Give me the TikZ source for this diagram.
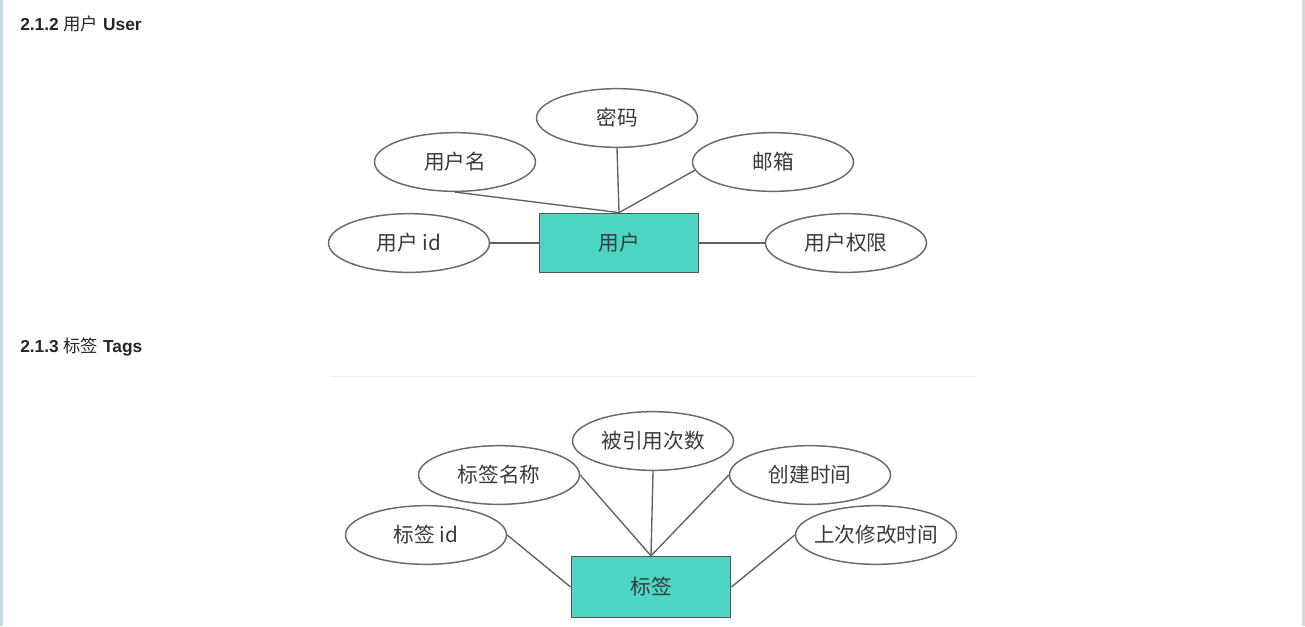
\documentclass[tikz,border=0pt]{standalone}
\usepackage{fontspec}
\setmainfont{Liberation Sans}
\newfontfamily\cjk{Noto Sans CJK SC}
\usetikzlibrary{shapes.geometric}
\definecolor{erTeal}{HTML}{4DD6C4}
\definecolor{erLine}{HTML}{6A6A6A}
\definecolor{erText}{HTML}{3A3A3A}
\definecolor{pageEdge}{HTML}{C3D9DE}
\definecolor{pageEdgeR}{HTML}{D4D8D8}

\begin{document}
\begin{tikzpicture}[x=0.75pt, y=-0.75pt,
    attr/.style={ellipse, draw=erLine, line width=1.1pt, fill=white,
                 minimum width=120.75pt, minimum height=44pt, inner sep=0pt,
                 font=\cjk\fontsize{15.5}{18}\selectfont, text=erText},
    entity/.style={rectangle, draw=erLine!80!black, line width=1.1pt, fill=erTeal,
                   minimum width=119.5pt, minimum height=44.5pt, inner sep=0pt,
                   font=\cjk\fontsize{15.5}{18}\selectfont, text=erText},
    link/.style={draw=erLine!90!black, line width=1pt},
    heading/.style={anchor=west, inner sep=0pt, text=black!85,
                    font=\bfseries\fontsize{13}{15}\selectfont}
  ]
  % page
  \useasboundingbox (0,0) rectangle (1305,626);
  \fill[white] (0,0) rectangle (1305,626);
  \fill[pageEdge] (0,0) rectangle (3,626);
  \fill[pageEdgeR] (1302,0) rectangle (1305,626);

  % 2.1.2 User
  \node[heading] (h1) at (20,24) {2.1.2 {\mdseries\cjk 用户} User};

  \node[entity] (user) at (619,243) {用户};
  \node[attr] (pwd)   at (617,118) {密码};
  \node[attr] (uname) at (455,162) {用户名};
  \node[attr] (mail)  at (773,162) {邮箱};
  \node[attr] (uid)   at (409,243) {用户 id};
  \node[attr] (perm)  at (846,243) {用户权限};

  \draw[link] (uname.south) -- (user.north);
  \draw[link] (pwd.south) -- (user.north);
  \draw[link] (mail.186) -- (user.north);
  \draw[link] (uid.east) -- (user.west);
  \draw[link] (user.east) -- (perm.west);

  % 2.1.3 Tags
  \node[heading] (h2) at (20,347) {2.1.3 {\mdseries\cjk 标签} Tags};
  \draw[black!7, line width=0.6pt] (330,376) -- (975,376);

  \node[entity, minimum height=45.75pt] (tag) at (651,587) {标签};
  \node[attr] (refc)  at (653,441) {\makebox[78pt]{被引用次数}};
  \node[attr] (tname) at (499,475) {标签名称};
  \node[attr] (ctime) at (810,475) {创建时间};
  \node[attr] (tid)   at (426,535) {标签 id};
  \node[attr] (mtime) at (876,535) {\makebox[78pt]{上次修改时间}};

  \draw[link] (tname.east) -- (tag.north);
  \draw[link] (refc.south) -- (tag.north);
  \draw[link] (ctime.west) -- (tag.north);
  \draw[link] (tid.east) -- (tag.west);
  \draw[link] (tag.east) -- (mtime.west);
\end{tikzpicture}
\end{document}
